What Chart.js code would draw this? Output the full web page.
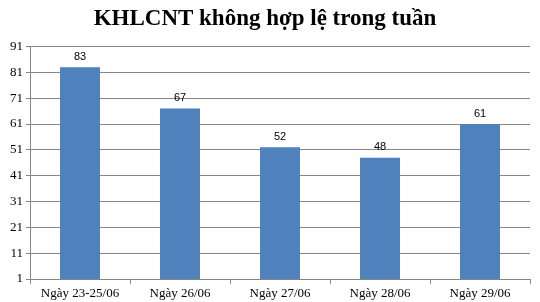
<!DOCTYPE html>
<html>
<head>
<meta charset="utf-8">
<script src="https://cdn.jsdelivr.net/npm/chart.js@4/dist/chart.umd.min.js"></script>
<style>
  html, body { margin: 0; padding: 0; background: #fff; }
  #wrap { width: 540px; height: 302px; }
</style>
</head>
<body>
<div id="wrap"><canvas id="plot"></canvas></div>
<script>
'use strict';

const titleText = 'KHLCNT không hợp lệ trong tuần';
const days = ['Ngày 23-25/06', 'Ngày 26/06', 'Ngày 27/06', 'Ngày 28/06', 'Ngày 29/06'];
const counts = [83, 67, 52, 48, 61];
const yMin = 1;
const yMax = 91;
const yStep = 10;

// draws the numbers above each bar
const barLabels = {
  id: 'barLabels',
  afterDatasetsDraw(chart){
    const ctx = chart.ctx;
    ctx.save();
    ctx.font = '11px "Liberation Sans", Arial, sans-serif';
    ctx.fillStyle = '#000';
    ctx.textAlign = 'center';
    ctx.textBaseline = 'bottom';
    chart.getDatasetMeta(0).data.forEach((bar, i)=>{
      ctx.fillText(String(counts[i]), bar.x, bar.y - 5);
    });
    ctx.restore();
  }
};

const chart = new Chart(document.querySelector('#plot'), {
  type: 'bar',
  data: {
    labels: days,
    datasets: [
      {label: 'KHLCNT', data: counts, backgroundColor: '#4F81BD', categoryPercentage: 1, barPercentage: 0.4}
    ]
  },
  options: {
    responsive: true,
    maintainAspectRatio: false,
    animation: false,
    layout: {padding: {left: 0, right: 10, top: 0, bottom: 0}},
    plugins: {
      legend: {display: false},
      tooltip: {enabled: false},
      title: {
        display: true,
        text: titleText,
        color: '#000',
        font: {family: '"Liberation Serif", "Times New Roman", serif', size: 23, weight: 'bold'},
        padding: {top: 5, bottom: 14}
      }
    },
    scales: {
      x: {
        afterFit: (scale)=>{ scale.height = 23; },
        grid: {display: true, drawOnChartArea: false, offset: true, color: '#868686', tickLength: 5},
        border: {color: '#868686'},
        ticks: {color: '#000', padding: 2, maxRotation: 0,
          font: {family: '"Liberation Serif", "Times New Roman", serif', size: 13}}
      },
      y: {
        min: yMin,
        max: yMax,
        afterFit: (scale)=>{ scale.width = 30; },
        afterBuildTicks: (scale)=>{
          const t = [];
          for(let v = yMin; v <= yMax; v += yStep) t.push({value: v});
          scale.ticks = t;
        },
        grid: {color: '#868686', tickLength: 4},
        border: {color: '#868686'},
        ticks: {color: '#000', padding: 3,
          font: {family: '"Liberation Serif", "Times New Roman", serif', size: 13}}
      }
    }
  },
  plugins: [barLabels]
});
</script>
</body>
</html>
